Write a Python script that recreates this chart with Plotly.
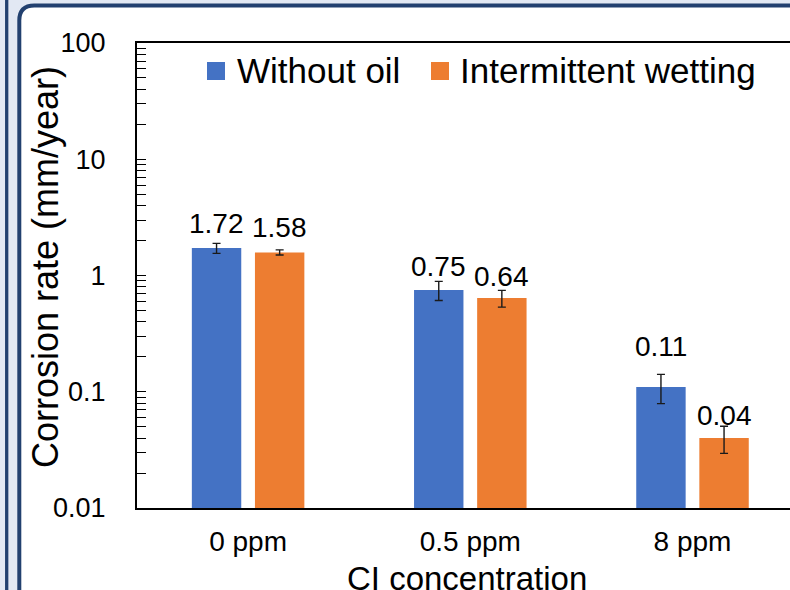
import math
import plotly.graph_objects as go

# ---- data ----
categories = ["0 ppm", "0.5 ppm", "8 ppm"]
series_names = ["Without oil", "Intermittent wetting"]
without_oil = [1.72, 0.75, 0.11]
intermittent = [1.58, 0.64, 0.04]
without_oil_err = [0.17, 0.14, 0.031]
intermittent_err = [0.08, 0.105, 0.0105]
y_tickvals = [0.01, 0.1, 1, 10, 100]
y_ticktext = ["0.01", "0.1", "1", "10", "100"]
x_title = "CI concentration"
y_title = "Corrosion rate (mm/year)"

# ---- style ----
colors = ["#4472C4", "#ED7D31"]
FONT = "Liberation Sans, Arial, sans-serif"
W, H = 790, 590
L, R, T, B = 137, 790, 43, 508
NAVY = "#22406f"
LIGHT = "#e2e8f3"

def px_x(px):
    return (px - L) / (R - L)

def px_y(py):
    return (B - py) / (B - T)

fig = go.Figure()
series_vals = [without_oil, intermittent]
series_errs = [without_oil_err, intermittent_err]
for name, vals, errs, col in zip(series_names, series_vals, series_errs, colors):
    fig.add_trace(go.Bar(
        x=categories, y=vals, name=name,
        marker=dict(color=col, line=dict(width=0)),
        error_y=dict(type="data", array=errs, color="#1a1a1a", thickness=1.4, width=4),
        showlegend=False,
    ))

# data labels (pixel offsets above bar top)
label_shift = [[25, 24, 40], [25, 22, 23]]
bar_xshift = [-31.5, 31.5]
annotations = []
for si, vals in enumerate(series_vals):
    for ci, v in enumerate(vals):
        annotations.append(dict(
            x=categories[ci], y=math.log10(v), xref="x", yref="y",
            text=f"{v:.2f}", showarrow=False, xanchor="center", yanchor="middle",
            xshift=bar_xshift[si], yshift=label_shift[si][ci],
            font=dict(family=FONT, size=28, color="#000000"),
        ))

# axis titles
annotations.append(dict(
    x=px_x(467), y=px_y(578), xref="paper", yref="paper", text=x_title,
    showarrow=False, xanchor="center", yanchor="middle",
    font=dict(family=FONT, size=33, color="#000000"),
))
annotations.append(dict(
    x=px_x(45), y=px_y(267), xref="paper", yref="paper", text=y_title,
    showarrow=False, xanchor="center", yanchor="middle", textangle=-90,
    font=dict(family=FONT, size=36, color="#000000"),
))

# manual legend
legend_sq_x = [207, 431]
legend_txt_x = [235, 458]
leg_cy = 71
shapes = []
# background frame
shapes.append(dict(type="line", xref="paper", yref="paper",
                   x0=px_x(6.7), x1=px_x(6.7), y0=px_y(-10), y1=px_y(600),
                   line=dict(color=NAVY, width=3.3), layer="below"))
rr = 15
lx, ty = 19.3, 5.5
path = "M{},{} L{},{} Q{},{} {},{} L{},{} L{},{} Z".format(
    px_x(lx), px_y(600), px_x(lx), px_y(ty + rr),
    px_x(lx), px_y(ty), px_x(lx + rr), px_y(ty),
    px_x(820), px_y(ty), px_x(820), px_y(600))
shapes.append(dict(type="path", xref="paper", yref="paper", path=path,
                   fillcolor="#ffffff", line=dict(color=NAVY, width=4), layer="below"))
for i, name in enumerate(series_names):
    shapes.append(dict(type="rect", xref="paper", yref="paper",
                       x0=px_x(legend_sq_x[i]), x1=px_x(legend_sq_x[i] + 18),
                       y0=px_y(leg_cy + 9), y1=px_y(leg_cy - 9),
                       fillcolor=colors[i], line=dict(width=0)))
    annotations.append(dict(
        x=px_x(legend_txt_x[i]), y=px_y(leg_cy), xref="paper", yref="paper",
        text=name, showarrow=False, xanchor="left", yanchor="middle",
        font=dict(family=FONT, size=35, color="#000000"),
    ))

fig.update_layout(
    width=W, height=H,
    margin=dict(l=L, r=W - R, t=T, b=H - B, autoexpand=False),
    paper_bgcolor=LIGHT, plot_bgcolor="#ffffff",
    barmode="group", bargap=0.432, bargroupgap=0.217,
    font=dict(family=FONT, color="#000000"),
    annotations=annotations, shapes=shapes,
    showlegend=False,
)
fig.update_xaxes(
    type="category", range=[-0.5, -0.5 + (R - L) / 222.2],
    showline=True, linecolor="#000000", linewidth=2, mirror=True,
    ticks="", showgrid=False, zeroline=False, automargin=False,
    tickfont=dict(family=FONT, size=28, color="#000000"),
    ticklabelstandoff=7,
)
fig.update_yaxes(
    type="log", range=[-2, 2],
    tickvals=y_tickvals, ticktext=y_ticktext,
    showline=True, linecolor="#000000", linewidth=2, mirror=False,
    ticks="inside", ticklen=9, tickwidth=1.3, tickcolor="#000000",
    minor=dict(ticks="inside", ticklen=9, tickwidth=1.3, tickcolor="#000000",
               dtick="D1", showgrid=False),
    showgrid=False, zeroline=False, automargin=False,
    tickfont=dict(family=FONT, size=27, color="#000000"),
    ticklabelstandoff=24,
)

fig.write_html(
    "out.html",
    config={"displayModeBar": False},
    post_script="document.body.style.margin='0';document.body.style.overflow='hidden';",
)
